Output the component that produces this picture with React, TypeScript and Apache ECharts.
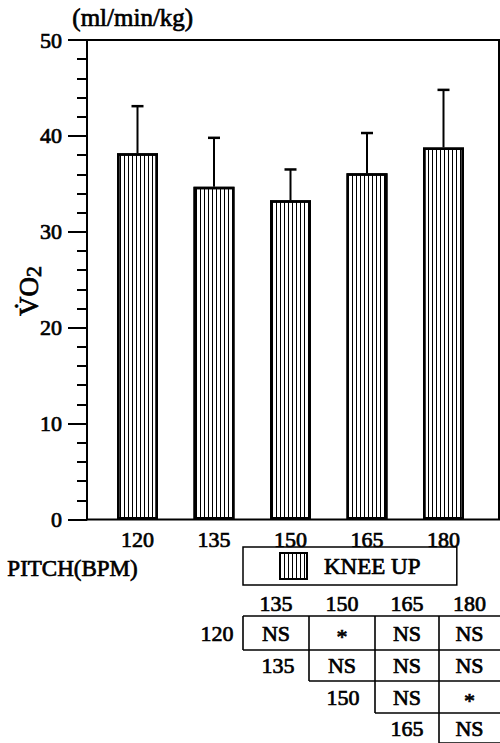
import React, { useEffect, useRef } from "react";
import * as echarts from "echarts";

// ---- data ----
const categories = ["120", "135", "150", "165", "180"];
const meanVO2 = [38.2, 34.7, 33.3, 36.1, 38.8];
const sdVO2 = [4.9, 5.1, 3.2, 4.2, 6.0];
const seriesName = "KNEE UP";
const yMin = 0;
const yMax = 50;
const yInterval = 10;

// significance table (upper triangle)
const tableColLabels = ["135", "150", "165", "180"];
const tableRowLabels = ["120", "135", "150", "165"];
const significance = [
  ["NS", "*", "NS", "NS"],
  ["NS", "NS", "NS"],
  ["NS", "*"],
  ["NS"],
];

const FONT = "Liberation Serif";
const W = "normal";
const EMB = 0.7; // slight emboldening stroke

function txt(text: string, x: number, y: number, size = 22) {
  return {
    type: "text",
    x,
    y,
    style: {
      text, fontFamily: FONT, fontSize: size, fontWeight: W, fill: "#000",
      stroke: "#000", lineWidth: EMB, align: "center", verticalAlign: "middle",
    },
  };
}

function buildTable() {
  const colX = [243, 309, 375, 439, 500];
  const rowY = [616, 650, 681, 713, 743];
  const rowLabelX = [217, 278, 343, 407];
  const headerY = 603;
  const els: any[] = [];
  const ls = { stroke: "#000", lineWidth: 1.6 };
  tableColLabels.forEach((t, c) => {
    els.push(txt(t, (colX[c] + colX[c + 1]) / 2, headerY));
  });
  tableRowLabels.forEach((t, r) => {
    const cy = (rowY[r] + rowY[r + 1]) / 2;
    els.push(txt(t, rowLabelX[r], cy));
    significance[r].forEach((s, k) => {
      const c = r + k;
      els.push(txt(s, (colX[c] + colX[c + 1]) / 2, cy + (s === "*" ? 3 : 0)));
    });
    els.push({ type: "line", shape: { x1: colX[r], y1: rowY[0], x2: colX[r], y2: rowY[r + 1] }, style: ls });
    els.push({ type: "line", shape: { x1: colX[r], y1: rowY[r + 1], x2: 500, y2: rowY[r + 1] }, style: ls });
  });
  els.push({ type: "line", shape: { x1: colX[0], y1: rowY[0], x2: 500, y2: rowY[0] }, style: ls });
  return els;
}

export default function App() {
  const ref = useRef<HTMLDivElement>(null);
  useEffect(() => {
    if (!ref.current) return;
    const chart = echarts.init(ref.current, undefined, { renderer: "svg" });
    const decal = {
      symbol: "rect",
      symbolSize: 1,
      dashArrayX: [1, 3],
      dashArrayY: [4, 0],
      color: "#000",
      rotation: 0,
    };
    const labelStyle = {
      color: "#000", fontSize: 22, fontWeight: W, fontFamily: FONT,
      textBorderColor: "#000", textBorderWidth: EMB,
    };
    const richTok = (size: number, extra: any = {}) => ({
      fontFamily: FONT, fontSize: size, fontWeight: W, fill: "#000",
      stroke: "#000", lineWidth: EMB, lineHeight: 30, ...extra,
    });
    const option: any = {
      animation: false,
      backgroundColor: "#fff",
      textStyle: { fontFamily: FONT },
      grid: [
        { left: 87, top: 40, width: 412, height: 479.5, show: true, borderColor: "#000", borderWidth: 2, backgroundColor: "transparent" },
        { left: 99.25, top: 40, width: 382.5, height: 479.5 },
      ],
      xAxis: [
        { type: "value", gridIndex: 0, min: 0, max: 1, show: false },
        {
          type: "category",
          gridIndex: 1,
          data: categories,
          axisLine: { show: false },
          axisTick: { show: false },
          axisLabel: { ...labelStyle, margin: 9 },
        },
      ],
      yAxis: [
        {
          type: "value",
          gridIndex: 0,
          min: yMin,
          max: yMax,
          interval: yInterval,
          axisLine: { show: true, lineStyle: { color: "#000", width: 2 } },
          axisTick: { show: true, length: 19, lineStyle: { color: "#000", width: 2 } },
          minorTick: { show: true, splitNumber: 5, length: 10, lineStyle: { color: "#000", width: 2 } },
          splitLine: { show: false },
          axisLabel: { ...labelStyle, margin: 25 },
        },
        { type: "value", gridIndex: 1, min: yMin, max: yMax, show: false },
      ],
      legend: {
        data: [{ name: seriesName, icon: "rect" }],
        left: 243,
        top: 547,
        padding: [5, 36, 5, 36],
        borderColor: "#000",
        borderWidth: 1.5,
        itemWidth: 27,
        itemHeight: 26,
        itemStyle: { color: "#fff", borderColor: "#000", borderWidth: 2, decal },
        textStyle: { ...labelStyle, fontSize: 23, padding: [0, 0, 0, 12] },
        selectedMode: false,
      },
      graphic: [
        {
          type: "text",
          left: 72,
          top: 5,
          style: { text: "(ml/min/kg)", fontFamily: FONT, fontSize: 25, fontWeight: W, fill: "#000", stroke: "#000", lineWidth: EMB },
        },
        {
          type: "text",
          left: 7,
          top: 557,
          style: { text: "PITCH(BPM)", fontFamily: FONT, fontSize: 23, fontWeight: W, fill: "#000", stroke: "#000", lineWidth: EMB },
        },
        {
          type: "text",
          x: 29,
          y: 291,
          rotation: Math.PI / 2,
          style: {
            text: "{v|V\u0307}{o|O}{s|2}",
            align: "center",
            verticalAlign: "middle",
            rich: {
              v: richTok(27),
              o: richTok(27),
              s: richTok(22, { verticalAlign: "bottom", padding: [4, 0, 0, 0] }),
            },
          },
        },
        ...buildTable(),
      ],
      series: [
        {
          name: seriesName,
          type: "bar",
          xAxisIndex: 1,
          yAxisIndex: 1,
          barWidth: 41,
          data: meanVO2,
          itemStyle: { color: "#fff", borderColor: "#000", borderWidth: 2.5, decal },
        },
        {
          name: "SD",
          type: "custom",
          xAxisIndex: 1,
          yAxisIndex: 1,
          data: meanVO2.map((m, i) => [i, m + sdVO2[i], m]),
          renderItem: (params: any, api: any) => {
            const i = api.value(0);
            const top = api.coord([i, api.value(1)]);
            const base = api.coord([i, api.value(2)]);
            return {
              type: "group",
              children: [
                { type: "line", shape: { x1: top[0], y1: top[1], x2: base[0], y2: base[1] }, style: { stroke: "#000", lineWidth: 2 } },
                { type: "line", shape: { x1: top[0] - 6, y1: top[1], x2: top[0] + 6, y2: top[1] }, style: { stroke: "#000", lineWidth: 2.5 } },
              ],
            };
          },
          z: 3,
        },
      ],
    };
    chart.setOption(option);
    return () => chart.dispose();
  }, []);
  return <div ref={ref} style={{ position: "fixed", left: 0, top: 0, width: 500, height: 743 }} />;
}
